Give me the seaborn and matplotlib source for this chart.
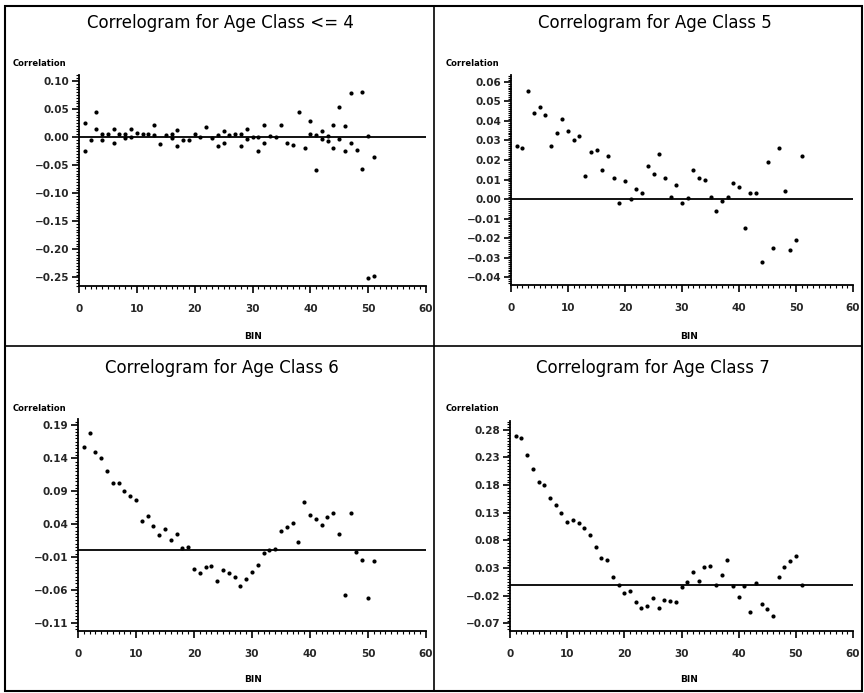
import numpy as np
import pandas as pd
import matplotlib
matplotlib.use("Agg")
import matplotlib.pyplot as plt
from matplotlib.ticker import MultipleLocator, AutoMinorLocator
from matplotlib.patches import Rectangle
from matplotlib.lines import Line2D
import seaborn as sns

# ── data (BIN vs correlation) ────────────────────────────────────────────────
titles = ["Correlogram for Age Class <= 4", "Correlogram for Age Class 5",
          "Correlogram for Age Class 6", "Correlogram for Age Class 7"]

bins_p1 = [1, 1, 2, 3, 3, 4, 4, 5, 6, 6, 7, 8, 8, 9, 9, 10, 11, 12, 13, 13,
           14, 15, 16, 16, 17, 17, 18, 19, 20, 21, 22, 23, 24, 24, 25, 25, 26,
           27, 28, 28, 29, 29, 30, 31, 31, 32, 32, 33, 34, 35, 36, 37, 38, 39,
           40, 40, 41, 41, 42, 42, 43, 43, 44, 44, 45, 45, 46, 46, 47, 47, 48,
           49, 49, 50, 50, 51, 51]
corr_p1 = [0.025, -0.025, -0.005, 0.045, 0.014, 0.006, -0.005, 0.006, 0.014,
           -0.011, 0.006, 0.005, -0.002, 0.015, 0.001, 0.008, 0.006, 0.005,
           0.021, 0.004, -0.012, 0.003, 0.006, -0.002, 0.012, -0.015, -0.005,
           -0.005, 0.005, 0.0, 0.018, -0.002, -0.015, 0.003, 0.010, -0.010,
           0.003, 0.005, -0.015, 0.005, 0.014, -0.003, 0.0, -0.025, 0.001,
           0.021, -0.010, 0.002, 0.0, 0.021, -0.010, -0.014, 0.045, -0.019,
           0.028, 0.006, -0.059, 0.003, 0.011, -0.004, 0.002, -0.007, 0.022,
           -0.019, 0.053, -0.004, 0.020, -0.025, 0.079, -0.010, -0.023, 0.080,
           -0.057, -0.251, 0.002, -0.247, -0.035]

bins_p2 = list(range(1, 52))
corr_p2 = [0.027, 0.026, 0.055, 0.044, 0.047, 0.043, 0.027, 0.034, 0.041, 0.035,
           0.030, 0.032, 0.012, 0.024, 0.025, 0.015, 0.022, 0.011, -0.002, 0.009,
           0.000, 0.005, 0.003, 0.017, 0.013, 0.023, 0.011, 0.001, 0.007, -0.002,
           0.0005, 0.015, 0.011, 0.010, 0.001, -0.006, -0.001, 0.001, 0.008, 0.006,
           -0.015, 0.003, 0.003, -0.032, 0.019, -0.025, 0.026, 0.004, -0.026,
           -0.021, 0.022]

bins_p3 = list(range(1, 52))
corr_p3 = [0.157, 0.179, 0.150, 0.140, 0.120, 0.103, 0.102, 0.090, 0.082, 0.076,
           0.045, 0.052, 0.037, 0.024, 0.033, 0.015, 0.025, 0.004, 0.005, -0.029,
           -0.034, -0.025, -0.024, -0.047, -0.030, -0.035, -0.041, -0.054, -0.044,
           -0.033, -0.022, -0.004, 0.001, 0.002, 0.030, 0.036, 0.042, 0.012, 0.073,
           0.053, 0.047, 0.039, 0.050, 0.057, 0.025, -0.068, 0.056, -0.003, -0.014,
           -0.072, -0.016]

bins_p4 = list(range(1, 52))
corr_p4 = [0.268, 0.265, 0.234, 0.210, 0.185, 0.180, 0.156, 0.144, 0.130, 0.114,
           0.116, 0.111, 0.102, 0.089, 0.068, 0.048, 0.045, 0.014, 0.000, -0.016,
           -0.012, -0.031, -0.042, -0.039, -0.024, -0.043, -0.028, -0.030, -0.031,
           -0.005, 0.005, 0.023, 0.007, 0.031, 0.033, -0.001, 0.017, 0.044, -0.003,
           -0.022, -0.003, -0.049, 0.002, -0.036, -0.045, -0.057, 0.013, 0.032,
           0.043, 0.052, 0.000]

yticks_p1 = [0.10, 0.05, 0.00, -0.05, -0.10, -0.15, -0.20, -0.25]
yticks_p2 = [0.06, 0.05, 0.04, 0.03, 0.02, 0.01, 0.00, -0.01, -0.02, -0.03, -0.04]
yticks_p3 = [0.19, 0.14, 0.09, 0.04, -0.01, -0.06, -0.11]
yticks_p4 = [0.28, 0.23, 0.18, 0.13, 0.08, 0.03, -0.02, -0.07]
xticks = [0, 10, 20, 30, 40, 50, 60]

# ── figure setup ──────────────────────────────────────────────────────────────
sns.set_style("ticks")
plt.rcParams['font.family'] = ['DejaVu Sans']
plt.rcParams['axes.unicode_minus'] = True

W, H = 864, 693
fig = plt.figure(figsize=(W / 100, H / 100), dpi=100)
fig.patch.set_facecolor("white")


def px_axes(left, top, right, bottom):
    return fig.add_axes([left / W, 1 - bottom / H, (right - left) / W, (bottom - top) / H])


# panel geometry in pixels: (left, top, right, bottom), ylim, title / label spots
panels = [
    (bins_p1, corr_p1, yticks_p1, (79, 75, 426, 286), (-0.2655, 0.1107), (220, 23), (13, 64), (253, 337)),
    (bins_p2, corr_p2, yticks_p2, (511, 75, 853, 285), (-0.0439, 0.0634), (655, 23), (446, 64), (689, 337)),
    (bins_p3, corr_p3, yticks_p3, (78, 419, 426, 631), (-0.1226, 0.1996), (222, 368), (13, 408), (253, 679)),
    (bins_p4, corr_p4, yticks_p4, (510, 421, 853, 631), (-0.084, 0.296), (653, 368), (446, 408), (689, 679)),
]

for title, (bins, corr, yt, box, ylim, tpos, cpos, bpos) in zip(titles, panels):
    ax = px_axes(*box)
    df = pd.DataFrame({"BIN": bins, "Correlation": corr})
    ax.axhline(0, color="black", lw=1.3, zorder=1)
    sns.scatterplot(data=df, x="BIN", y="Correlation", ax=ax, color="black",
                    s=9, linewidth=0, marker="o", zorder=3)
    ax.set_xlim(0, 60)
    ax.set_ylim(*ylim)
    ax.set_xticks(xticks)
    ax.set_xticklabels([str(t) for t in xticks])
    ax.xaxis.set_minor_locator(MultipleLocator(1))
    ax.set_yticks(yt)
    ax.set_yticklabels([f"{t:.2f}".replace("-", "\u2212") for t in yt])
    ax.yaxis.set_minor_locator(AutoMinorLocator(10))
    ax.tick_params(axis="both", which="major", length=5, width=1.2, color="black",
                   labelsize=7.5, pad=2)
    ax.tick_params(axis="both", which="minor", length=2.5, width=0.8, color="black")
    ax.tick_params(axis="x", pad=8)
    for lab in ax.get_xticklabels() + ax.get_yticklabels():
        lab.set_fontweight("bold")
    sns.despine(ax=ax)
    ax.spines["left"].set_linewidth(1.3)
    ax.spines["bottom"].set_linewidth(1.3)
    ax.spines["left"].set_color("black")
    ax.spines["bottom"].set_color("black")
    ax.set_xlabel("")
    ax.set_ylabel("")
    ax.set_facecolor("white")

    fig.text(tpos[0] / W, 1 - tpos[1] / H, title, ha="center", va="center",
             fontsize=12, color="black")
    fig.text(cpos[0] / W, 1 - cpos[1] / H, "Correlation", ha="left", va="center",
             fontsize=6, fontweight="bold", color="black")
    fig.text(bpos[0] / W, 1 - bpos[1] / H, "BIN", ha="center", va="center",
             fontsize=6.5, fontweight="bold", color="black")

# panel frames
fig.add_artist(Rectangle((5 / W, 1 - 691 / H), 857 / W, 685 / H, transform=fig.transFigure,
                         fill=False, edgecolor="black", lw=1.5))
fig.add_artist(Line2D([434 / W, 434 / W], [1 - 691 / H, 1 - 6 / H], transform=fig.transFigure,
                      color="black", lw=1.2))
fig.add_artist(Line2D([5 / W, 862 / W], [1 - 346 / H, 1 - 346 / H], transform=fig.transFigure,
                      color="black", lw=1.2))

fig.savefig("out.png", dpi=100)
print("Saved: out.png")
